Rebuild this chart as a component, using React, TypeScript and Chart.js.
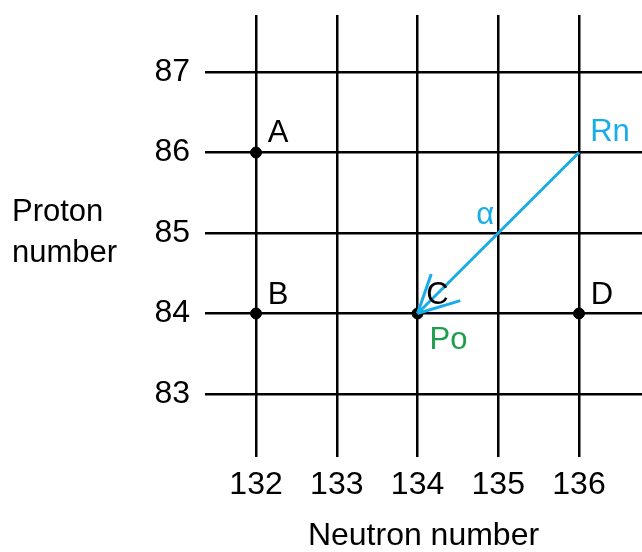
import React, { useEffect, useRef } from "react";
import { Chart, registerables } from "chart.js";

Chart.register(...registerables);

const neutronTicks = [132, 133, 134, 135, 136];
const protonTicks = [83, 84, 85, 86, 87];
const nuclideNames = ["A", "B", "C", "D"];
const nuclideN = [132, 132, 134, 136];
const nuclideZ = [86, 84, 84, 84];
const decayFromN = 136;
const decayFromZ = 86;
const decayToN = 134;
const decayToZ = 84;
const parentName = "Rn";
const daughterName = "Po";
const decayName = "α";
const headBarbN = [134.17, 134.53];
const headBarbZ = [84.49, 84.16];

const BLUE = "#18ade8";
const GREEN = "#1e9e4a";
const FONT = "'Liberation Sans', Arial, sans-serif";
const FS = 31;
const AXFS = 32;

export default function App() {
  const ref = useRef<HTMLCanvasElement | null>(null);

  useEffect(() => {
    if (!ref.current) return;
    document.body.style.margin = "0";

    const labelPlugin = {
      id: "labels",
      afterDatasetsDraw(chart: any) {
        const { ctx, scales } = chart;
        const xs = scales.x;
        const ys = scales.y;
        ctx.save();
        ctx.font = `${FS}px ${FONT}`;
        ctx.textAlign = "center";
        ctx.textBaseline = "middle";
        const offs = [
          [22, -19],
          [22, -18],
          [20, -18],
          [23, -18],
        ];
        ctx.fillStyle = "#000";
        nuclideNames.forEach((nm, i) => {
          const px = xs.getPixelForValue(nuclideN[i]);
          const py = ys.getPixelForValue(nuclideZ[i]);
          ctx.fillText(nm, px + offs[i][0], py + offs[i][1]);
        });
        ctx.fillStyle = BLUE;
        ctx.fillText(
          parentName,
          xs.getPixelForValue(decayFromN) + 31,
          ys.getPixelForValue(decayFromZ) - 20
        );
        ctx.fillText(
          decayName,
          xs.getPixelForValue((decayFromN + decayToN) / 2) - 13,
          ys.getPixelForValue((decayFromZ + decayToZ) / 2) - 18
        );
        ctx.fillStyle = GREEN;
        ctx.fillText(
          daughterName,
          xs.getPixelForValue(decayToN) + 31,
          ys.getPixelForValue(decayToZ) + 27
        );
        ctx.fillStyle = "#000";
        ctx.textAlign = "left";
        ctx.fillText("Proton", 12, 212);
        ctx.fillText("number", 12, 253);
        ctx.restore();
      },
    };

    const chart = new Chart(ref.current, {
      type: "scatter",
      data: {
        datasets: [
          {
            data: [
              { x: decayFromN, y: decayFromZ },
              { x: decayToN, y: decayToZ },
            ],
            showLine: true,
            borderColor: BLUE,
            borderWidth: 3,
            pointRadius: 0,
          },
          ...headBarbN.map((bn, i) => ({
            data: [
              { x: decayToN, y: decayToZ },
              { x: bn, y: headBarbZ[i] },
            ],
            showLine: true,
            borderColor: BLUE,
            borderWidth: 3,
            pointRadius: 0,
          })),
          {
            data: nuclideN.map((n, i) => ({ x: n, y: nuclideZ[i] })),
            showLine: false,
            pointRadius: 5.5,
            pointBackgroundColor: "#000",
            pointBorderColor: "#000",
          },
        ],
      },
      options: {
        animation: false,
        responsive: false,
        devicePixelRatio: 1,
        layout: {
          autoPadding: false,
          padding: { top: 15, right: 0, bottom: 0, left: 0 },
        },
        plugins: {
          legend: { display: false },
          tooltip: { enabled: false },
        },
        scales: {
          x: {
            type: "linear",
            min: 131.368,
            max: 136.78,
            afterBuildTicks: (s: any) => {
              s.ticks = neutronTicks.map((v) => ({ value: v }));
            },
            afterFit: (s: any) => {
              s.height = 95;
              s.paddingLeft = 0;
              s.paddingRight = 0;
            },
            grid: { color: "#000", lineWidth: 2.5, drawTicks: false },
            border: { display: false },
            ticks: {
              color: "#000",
              font: { family: FONT, size: AXFS },
              padding: 9,
              maxRotation: 0,
              autoSkip: false,
              callback: (v: any) => String(v),
            },
            title: {
              display: true,
              text: "Neutron number",
              color: "#000",
              font: { family: FONT, size: AXFS, lineHeight: 1 },
              padding: { top: 0, bottom: 0 },
            },
          },
          y: {
            type: "linear",
            min: 82.217,
            max: 87.708,
            afterBuildTicks: (s: any) => {
              s.ticks = protonTicks.map((v) => ({ value: v }));
            },
            afterFit: (s: any) => {
              s.width = 205;
              s.paddingTop = 0;
              s.paddingBottom = 0;
            },
            grid: { color: "#000", lineWidth: 2.5, drawTicks: false },
            border: { display: false },
            ticks: {
              color: "#000",
              font: { family: FONT, size: AXFS },
              padding: 15,
              autoSkip: false,
              callback: (v: any) => String(v),
            },
          },
        },
      },
      plugins: [labelPlugin],
    } as any);

    return () => chart.destroy();
  }, []);

  return (
    <div style={{ position: "fixed", left: 0, top: 0, width: 642, height: 552 }}>
      <canvas ref={ref} width={642} height={552} style={{ width: 642, height: 552 }} />
    </div>
  );
}
